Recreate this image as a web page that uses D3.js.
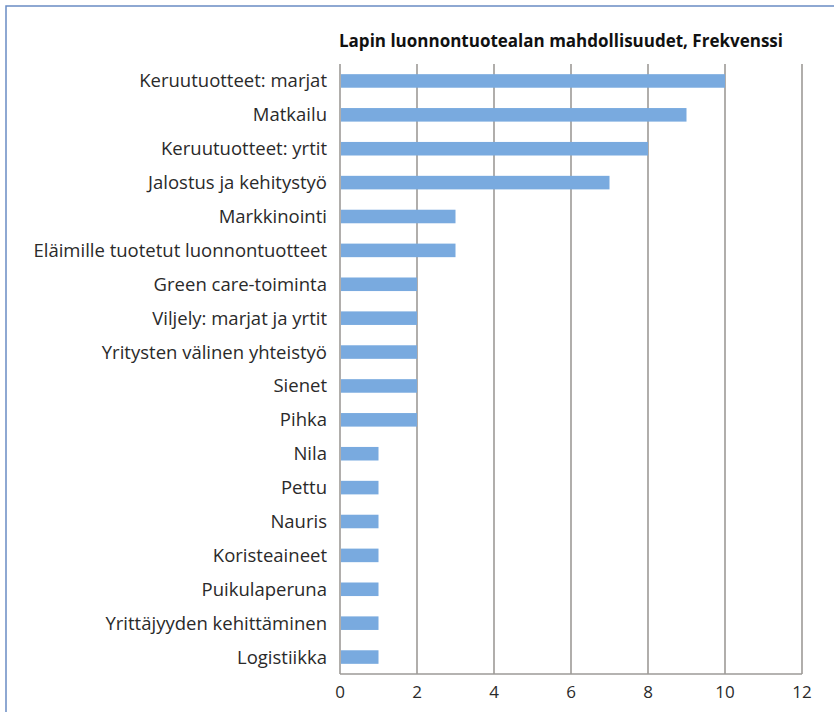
<!DOCTYPE html>
<html lang="fi">
<head>
<meta charset="UTF-8">
<script src="https://d3js.org/d3.v7.min.js"></script>
<style>
body { margin: 0; background: #fff; }
.label text { font: 18.5px "Open Sans", sans-serif; fill: #2a2a2a; }
.xaxis text { font: 17px "Open Sans", sans-serif; fill: #2a2a2a; }
.title { font: bold 17px "Open Sans", sans-serif; fill: #111; }
.grid line { stroke: #9d9a97; stroke-width: 1.6; }
.bar { fill: #79aadf; }
</style>
</head>
<body>
<svg class="chart"></svg>
<script>
const categories = [
  "Keruutuotteet: marjat", "Matkailu", "Keruutuotteet: yrtit", "Jalostus ja kehitystyö",
  "Markkinointi", "Eläimille tuotetut luonnontuotteet", "Green care-toiminta",
  "Viljely: marjat ja yrtit", "Yritysten välinen yhteistyö", "Sienet", "Pihka",
  "Nila", "Pettu", "Nauris", "Koristeaineet", "Puikulaperuna",
  "Yrittäjyyden kehittäminen", "Logistiikka"
];
const values = [10, 9, 8, 7, 3, 3, 2, 2, 2, 2, 2, 1, 1, 1, 1, 1, 1, 1];
const ticks = [0, 2, 4, 6, 8, 10, 12];
const title = "Lapin luonnontuotealan mahdollisuudet, Frekvenssi";

const W = 834, H = 712;
const margin = { top: 64, left: 340, right: 32, bottom: 38 };
const width = W - margin.left - margin.right,
      height = H - margin.top - margin.bottom;

const svg = d3.select('.chart').attr('width', W).attr('height', H);

// frame
svg.append('rect')
  .attr('x', 6).attr('y', 6).attr('width', W + 10).attr('height', H + 10)
  .attr('fill', 'none').attr('stroke', '#6a8cc4').attr('stroke-width', 1.5);

const g = svg.append('g').attr('transform', 'translate(' + margin.left + ',' + margin.top + ')');

const x = d3.scaleLinear().domain([0, 12]).range([0, width]);
const y = d3.scaleBand().domain(categories).range([0, height]).paddingInner(0.6).paddingOuter(0.3);

// gridlines
g.append('g').attr('class', 'grid')
  .selectAll('line').data(ticks).enter().append('line')
  .attr('x1', d => x(d)).attr('x2', d => x(d))
  .attr('y1', 0).attr('y2', height);
g.append('g').attr('class', 'grid')
  .append('line').attr('x1', 0).attr('x2', width).attr('y1', height).attr('y2', height);

// bars
g.selectAll('.bar').data(values).enter().append('rect')
  .attr('class', 'bar')
  .attr('x', x(0) + 1)
  .attr('y', (d, i) => y(categories[i]))
  .attr('width', d => x(d) - x(0) - 1)
  .attr('height', y.bandwidth());

// category labels
g.append('g').attr('class', 'label')
  .selectAll('text').data(categories).enter().append('text')
  .attr('x', -13)
  .attr('y', d => y(d) + y.bandwidth() / 2)
  .attr('dy', '0.35em')
  .attr('text-anchor', 'end')
  .text(d => d);

// x axis labels
g.append('g').attr('class', 'xaxis')
  .selectAll('text').data(ticks).enter().append('text')
  .attr('x', d => x(d))
  .attr('y', height + 18)
  .attr('dy', '0.35em')
  .attr('text-anchor', 'middle')
  .text(d => d);

svg.append('text').attr('class', 'title')
  .attr('x', 339).attr('y', 47)
  .text(title);
</script>
</body>
</html>
